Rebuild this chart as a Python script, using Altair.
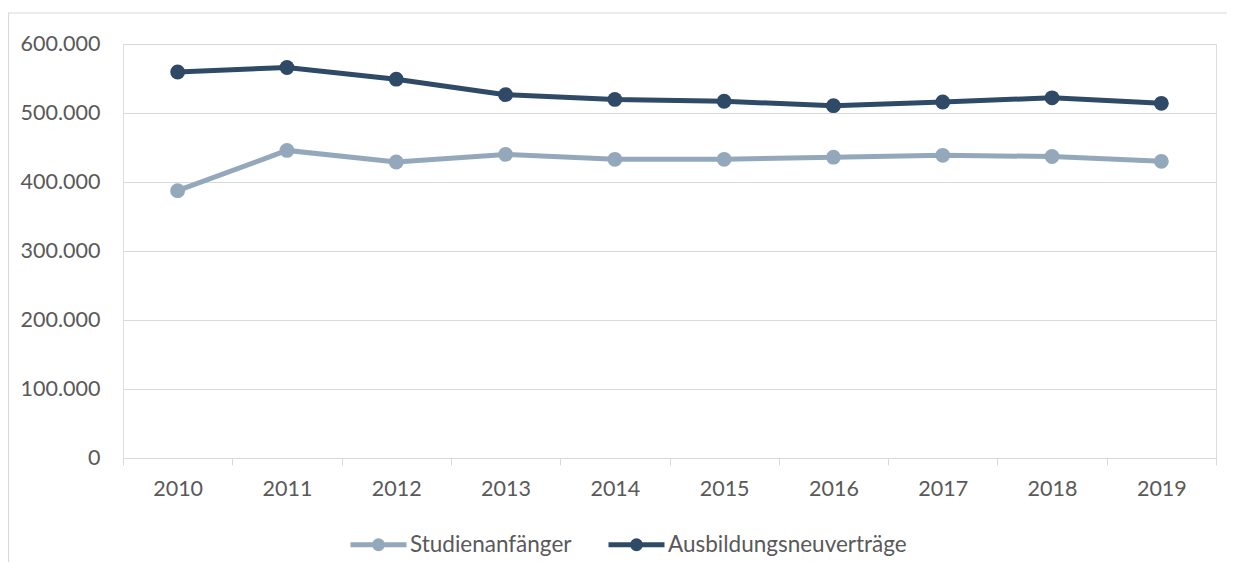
import altair as alt
import pandas as pd

years = ["2010", "2011", "2012", "2013", "2014", "2015", "2016", "2017", "2018", "2019"]
studienanfaenger = [387400, 445800, 429000, 440000, 432800, 432800, 436000, 438600, 437000, 430000]
ausbildung = [559400, 566000, 549000, 526600, 519700, 517000, 510600, 516000, 522000, 514000]
series_names = ["Studienanfänger", "Ausbildungsneuverträge"]
series_colors = ["#94a8bc", "#2e4a66"]

rows = []
for name, vals in zip(series_names, [studienanfaenger, ausbildung]):
    for y, v in zip(years, vals):
        rows.append({"Jahr": y, "Serie": name, "Wert": v})
df = pd.DataFrame(rows)

FONT = "Lato"
TXT = "#595959"
GRID = "#d9d9d9"

# legend symbol: line with a filled dot in the middle (stroke-only path)
sym = ("M-1,0L1,0"
       "M-0.143,0A0.143,0.143,0,1,1,0.143,0A0.143,0.143,0,1,1,-0.143,0"
       "M-0.054,0A0.054,0.054,0,1,1,0.054,0A0.054,0.054,0,1,1,-0.054,0")

x_enc = alt.X("Jahr:O", sort=years,
              scale=alt.Scale(type="band", paddingInner=0, paddingOuter=0),
              axis=alt.Axis(title=None, labelAngle=0, tickBand="extent",
                            domainColor=GRID, tickColor=GRID, tickSize=7,
                            labelPadding=13, labelFont=FONT, labelFontSize=21.5,
                            labelColor=TXT, grid=False))
y_enc = alt.Y("Wert:Q", scale=alt.Scale(domain=[0, 600000]),
              axis=alt.Axis(title=None, values=[0, 100000, 200000, 300000, 400000, 500000, 600000],
                            format=",d", domain=False, ticks=False, grid=True,
                            gridColor=GRID, labelPadding=23, labelFont=FONT,
                            labelFontSize=21.5, labelColor=TXT))
color_scale = alt.Scale(domain=series_names, range=series_colors)

lines = alt.Chart(df).mark_line(strokeWidth=5).encode(
    x=x_enc, y=y_enc,
    color=alt.Color("Serie:N", scale=color_scale, sort=series_names,
                    legend=alt.Legend(title=None, orient="none", direction="horizontal",
                                      legendX=225, legendY=470, columns=2,
                                      symbolType=sym, symbolSize=3136,
                                      symbolStrokeWidth=5, columnPadding=26,
                                      labelOffset=1, labelLimit=500, labelFont=FONT,
                                      labelFontSize=22.5, labelColor=TXT)),
)
points = alt.Chart(df).mark_circle(size=220, opacity=1).encode(
    x=alt.X("Jahr:O", sort=years), y="Wert:Q",
    color=alt.Color("Serie:N", scale=color_scale, legend=None),
)

frame = alt.Chart(pd.DataFrame({"a": [0]})).mark_rect(
    fill=None, stroke=GRID, strokeWidth=1.2
).encode(x=alt.value(-114.5), x2=alt.value(1300), y=alt.value(-31), y2=alt.value(700))

chart = alt.layer(frame, lines, points).properties(
    width=1093, height=414,
    autosize=alt.AutoSizeParams(type="none"),
    padding={"left": 115, "top": 36, "right": 11, "bottom": 104},
).configure_view(stroke=None).configure(
    locale={"number": {"decimal": ",", "thousands": ".", "grouping": [3], "currency": ["", " €"]}}
)

chart.save("out.html", embed_options={"renderer": "svg", "actions": False})
